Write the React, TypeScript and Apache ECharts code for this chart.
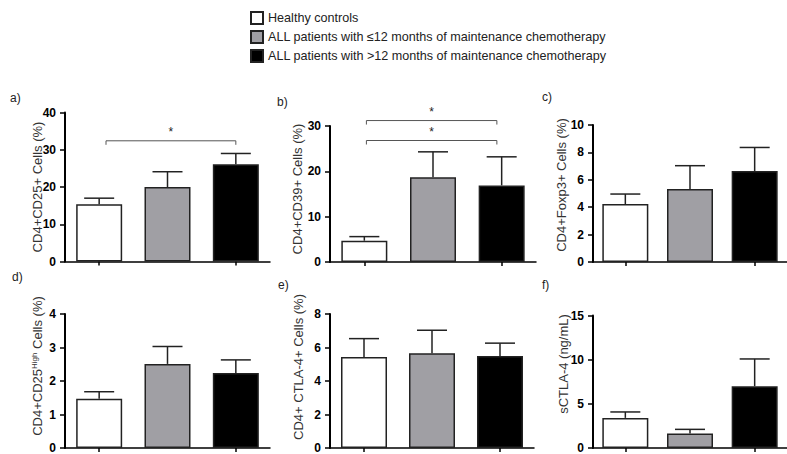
import React, { useEffect, useRef } from "react";
import * as echarts from "echarts";

// ---------- data ----------
const groups = [
  "Healthy controls",
  "ALL patients with ≤12 months of maintenance chemotherapy",
  "ALL patients with >12 months of maintenance chemotherapy",
];
const categories = ["Healthy", "≤12 months", ">12 months"];
const panelLetters = ["a)", "b)", "c)", "d)", "e)", "f)"];

const meanA = [15.4, 20.0, 26.1];
const semA = [1.6, 4.1, 2.9];
const meanB = [4.7, 18.7, 16.9];
const semB = [0.9, 5.6, 6.3];
const meanC = [4.23, 5.33, 6.64];
const semC = [0.73, 1.7, 1.72];
const meanD = [1.47, 2.51, 2.24];
const semD = [0.21, 0.52, 0.39];
const meanE = [5.43, 5.66, 5.49];
const semE = [1.1, 1.37, 0.77];
const meanF = [3.41, 1.63, 7.0];
const semF = [0.67, 0.48, 3.08];

const yMaxes = [40, 30, 10, 4, 8, 15];
const yIntervals = [10, 10, 2, 1, 2, 5];

// significance brackets: [fromCategory, y, toCategory]
const bracketsA = [[0, 32.4, 2]];
const bracketsB = [
  [0, 31.2, 2],
  [0, 26.8, 2],
];
const bracketsC: number[][] = [];
const bracketsD: number[][] = [];
const bracketsE: number[][] = [];
const bracketsF: number[][] = [];

const means = [meanA, meanB, meanC, meanD, meanE, meanF];
const sems = [semA, semB, semC, semD, semE, semF];
const brackets = [bracketsA, bracketsB, bracketsC, bracketsD, bracketsE, bracketsF];

// ---------- layout / style ----------
const FONT = "'Liberation Sans', Arial, Helvetica, sans-serif";
const fills = ["#ffffff", "#a09fa4", "#000000"];
const gridRects = [
  { left: 65, top: 112.5, width: 205, height: 149 },
  { left: 330, top: 126, width: 206, height: 136 },
  { left: 593, top: 125, width: 205, height: 137 },
  { left: 65, top: 314, width: 205, height: 137 },
  { left: 330, top: 314, width: 204, height: 138 },
  { left: 593, top: 315.5, width: 205, height: 135 },
];
const bracketEndShift = [
  [0.1, 0],
  [0.03, -0.07],
  [0, 0],
  [0, 0],
  [0, 0],
  [0, 0],
];
const letterPos = [
  [10, 98],
  [277, 102],
  [542, 97],
  [12, 277],
  [278, 285],
  [542, 285],
];
const titlePos = [
  [37, 187],
  [297, 189],
  [561, 185],
  [37, 366],
  [298, 367],
  [563, 364],
];
const yTitles = [
  "CD4+CD25+ Cells (%)",
  "CD4+CD39+ Cells (%)",
  "CD4+Foxp3+ Cells (%)",
  "CD4+CD25{sup|High} Cells (%)",
  "CD4+ CTLA-4+ Cells (%)",
  "sCTLA-4 (ng/mL)",
];

export default function App() {
  const ref = useRef<HTMLDivElement>(null);

  useEffect(() => {
    if (!ref.current) return;
    const chart = echarts.init(ref.current, undefined, { renderer: "svg" });

    const grid = gridRects.map((g) => ({ ...g, containLabel: false }));
    const xAxis = gridRects.map((_, i) => ({
      type: "category",
      gridIndex: i,
      data: categories,
      axisLine: { show: true, lineStyle: { color: "#000", width: 1.5 } },
      axisTick: {
        show: true,
        alignWithLabel: true,
        length: 4,
        lineStyle: { color: "#000", width: 1.5 },
      },
      axisLabel: { show: false },
      splitLine: { show: false },
    }));
    const yAxis = gridRects.map((_, i) => ({
      type: "value",
      gridIndex: i,
      min: 0,
      max: yMaxes[i],
      interval: yIntervals[i],
      axisLine: { show: true, lineStyle: { color: "#000", width: 2 } },
      axisTick: { show: true, length: 5, lineStyle: { color: "#000", width: 1.5 } },
      axisLabel: {
        show: true,
        margin: 9,
        color: "#000",
        fontWeight: "bold",
        fontSize: 12,
        fontFamily: FONT,
      },
      splitLine: { show: false },
    }));

    const series: any[] = [];
    gridRects.forEach((_, i) => {
      groups.forEach((g, gi) => {
        series.push({
          type: "bar",
          name: g,
          xAxisIndex: i,
          yAxisIndex: i,
          barWidth: 46,
          barGap: "-100%",
          silent: true,
          data: means[i].map((m, ci) => (ci === gi ? m : "-")),
          itemStyle: { color: fills[gi], borderColor: "#222", borderWidth: 1.5 },
        });
      });
      series.push({
        type: "custom",
        xAxisIndex: i,
        yAxisIndex: i,
        silent: true,
        z: 5,
        data: means[i].map((m, ci) => [ci, m, m + sems[i][ci]]),
        encode: { x: 0, y: 1 },
        renderItem: (params: any, api: any) => {
          const base = api.coord([api.value(0), api.value(1)]);
          const top = api.coord([api.value(0), api.value(2)]);
          const half = 15;
          const st = { stroke: "#222", lineWidth: 1.5 };
          return {
            type: "group",
            children: [
              { type: "line", shape: { x1: base[0], y1: base[1], x2: top[0], y2: top[1] }, style: st },
              { type: "line", shape: { x1: top[0] - half, y1: top[1], x2: top[0] + half, y2: top[1] }, style: st },
            ],
          };
        },
      });
      if (brackets[i].length) {
        series.push({
          type: "custom",
          xAxisIndex: i,
          yAxisIndex: i,
          silent: true,
          z: 5,
          data: brackets[i],
          encode: { x: 0, y: 1 },
          renderItem: (params: any, api: any) => {
            const p0 = api.coord([api.value(0), api.value(1)]);
            const p1 = api.coord([api.value(2), api.value(1)]);
            const band = api.size([1, 0])[0];
            const x0 = p0[0] + bracketEndShift[i][0] * band;
            const x1 = p1[0] + bracketEndShift[i][1] * band;
            const y = p0[1];
            return {
              type: "group",
              children: [
                {
                  type: "polyline",
                  shape: { points: [[x0, y + 4], [x0, y], [x1, y], [x1, y + 4]] },
                  style: { stroke: "#555", lineWidth: 1, fill: "none" },
                },
                {
                  type: "text",
                  x: (x0 + x1) / 2,
                  y: y - 3,
                  style: {
                    text: "*",
                    fontSize: 12,
                    fontFamily: FONT,
                    fill: "#222",
                    align: "center",
                    verticalAlign: "bottom",
                  },
                },
              ],
            };
          },
        });
      }
    });

    const graphic: any[] = [];
    panelLetters.forEach((t, i) => {
      graphic.push({
        type: "text",
        x: letterPos[i][0],
        y: letterPos[i][1],
        style: { text: t, fontSize: 12, fontFamily: FONT, fill: "#222", align: "left", verticalAlign: "middle" },
      });
    });
    yTitles.forEach((t, i) => {
      graphic.push({
        type: "text",
        x: titlePos[i][0],
        y: titlePos[i][1],
        rotation: Math.PI / 2,
        style: {
          text: t,
          fontSize: 13,
          fontFamily: FONT,
          fill: "#333",
          align: "center",
          verticalAlign: "middle",
          rich: {
            sup: { fontSize: 8, fontFamily: FONT, fill: "#333", verticalAlign: "top", padding: [0, 0, 6, 0] },
          },
        },
      });
    });

    chart.setOption({
      animation: false,
      backgroundColor: "#ffffff",
      grid,
      xAxis,
      yAxis,
      series,
      graphic,
      legend: {
        orient: "vertical",
        left: 250,
        top: 11,
        padding: 0,
        itemWidth: 12,
        itemHeight: 12,
        itemGap: 5,
        icon: "rect",
        selectedMode: false,
        data: groups,
        textStyle: { fontSize: 12.6, fontFamily: FONT, color: "#222" },
      },
    });

    return () => chart.dispose();
  }, []);

  return (
    <div
      ref={ref}
      style={{ position: "fixed", left: 0, top: 0, width: 787, height: 454 }}
    />
  );
}
